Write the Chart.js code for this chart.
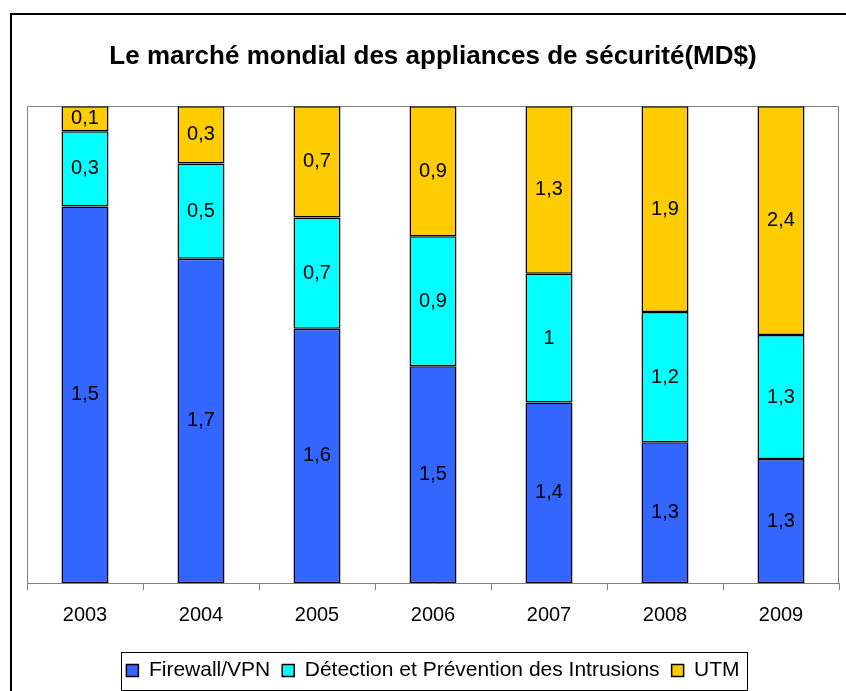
<!DOCTYPE html>
<html lang="fr">
<head>
<meta charset="UTF-8">
<title>Le marché mondial des appliances de sécurité</title>
<script src="https://cdn.jsdelivr.net/npm/chart.js@4.4.0/dist/chart.umd.min.js"></script>
<style>
  html, body { margin: 0; padding: 0; background: #fff; overflow: hidden; }
  #wrap { position: relative; width: 846px; height: 691px; }
</style>
</head>
<body>
<div id="wrap"><canvas id="chart" width="846" height="691"></canvas></div>
<script>
// values in MD$
const years = ['2003', '2004', '2005', '2006', '2007', '2008', '2009'];
const firewallVPN = [1.5, 1.7, 1.6, 1.5, 1.4, 1.3, 1.3];
const detectionIPS = [0.3, 0.5, 0.7, 0.9, 1, 1.2, 1.3];
const utm = [0.1, 0.3, 0.7, 0.9, 1.3, 1.9, 2.4];

const FONT = '"Liberation Sans", Arial, sans-serif';

// 100% stacked: share of each year's total
const totals = years.map((y, i) => firewallVPN[i] + detectionIPS[i] + utm[i]);
const share = arr => arr.map((v, i) => v / totals[i] * 100);

// outer frame, plot area border, legend box
const framePlugin = {
  id: 'frame',
  beforeDraw(chart) {
    const c = chart.ctx, a = chart.chartArea;
    c.save();
    c.fillStyle = '#fff';
    c.fillRect(0, 0, chart.width, chart.height);
    c.strokeStyle = '#000';
    c.lineWidth = 2;
    c.strokeRect(11, 14, 900, 900);
    c.strokeStyle = '#808080';
    c.lineWidth = 1;
    c.beginPath();
    c.moveTo(Math.round(a.left) + 0.5, Math.round(a.bottom));
    c.lineTo(Math.round(a.left) + 0.5, Math.round(a.top) + 0.5);
    c.lineTo(Math.round(a.right) - 0.5, Math.round(a.top) + 0.5);
    c.lineTo(Math.round(a.right) - 0.5, Math.round(a.bottom));
    c.stroke();
    c.restore();
  },
  afterDraw(chart) {
    const lg = chart.legend;
    if (!lg || !lg.legendHitBoxes.length) return;
    const hb = lg.legendHitBoxes;
    const left = Math.min(...hb.map(h => h.left)) - 5;
    const right = Math.max(...hb.map(h => h.left + h.width)) + 8;
    const mid = hb[0].top + hb[0].height / 2;
    const c = chart.ctx;
    c.save();
    c.strokeStyle = '#000';
    c.lineWidth = 1;
    c.strokeRect(Math.round(left) + 0.5, Math.round(mid - 19) + 0.5, Math.round(right - left), 38);
    c.restore();
  }
};

// value labels centred in each segment
const valueLabels = {
  id: 'valueLabels',
  afterDatasetsDraw(chart) {
    const c = chart.ctx;
    c.save();
    c.font = '20px ' + FONT;
    c.fillStyle = '#000';
    c.textAlign = 'center';
    c.textBaseline = 'middle';
    chart.data.datasets.forEach((ds, di) => {
      chart.getDatasetMeta(di).data.forEach((bar, i) => {
        const txt = String(ds.raw[i]).replace('.', ',');
        c.fillText(txt, bar.x, (bar.y + bar.base) / 2);
      });
    });
    c.restore();
  }
};

const common = { borderColor: '#000', borderWidth: 1.5, borderSkipped: false,
                 barPercentage: 0.405, categoryPercentage: 1 };

new Chart(document.getElementById('chart'), {
  type: 'bar',
  data: {
    labels: years,
    datasets: [
      Object.assign({ label: 'Firewall/VPN', data: share(firewallVPN), raw: firewallVPN, backgroundColor: '#3366FF' }, common),
      Object.assign({ label: 'Détection et Prévention des Intrusions', data: share(detectionIPS), raw: detectionIPS, backgroundColor: '#00FFFF' }, common),
      Object.assign({ label: 'UTM', data: share(utm), raw: utm, backgroundColor: '#FFCC00' }, common)
    ]
  },
  options: {
    responsive: false,
    animation: false,
    layout: { padding: { left: 27, right: 7, top: 0, bottom: 0 } },
    scales: {
      x: {
        stacked: true,
        grid: { offset: true, drawOnChartArea: false, drawTicks: true, tickLength: 7, color: '#808080' },
        border: { display: true, color: '#808080' },
        ticks: { color: '#000', font: { family: FONT, size: 20 }, padding: 13 },
        afterFit(scale) { scale.height += 8; }
      },
      y: { stacked: true, display: false, min: 0, max: 100 }
    },
    plugins: {
      title: {
        display: true,
        text: 'Le marché mondial des appliances de sécurité(MD$)',
        color: '#000',
        font: { family: FONT, size: 26, weight: 'bold', lineHeight: 1.2 },
        padding: { top: 41, bottom: 34 }
      },
      legend: {
        position: 'bottom',
        labels: { color: '#000', font: { family: FONT, size: 21 }, boxWidth: 12, boxHeight: 12, padding: 12 }
      },
      tooltip: { enabled: false }
    }
  },
  plugins: [framePlugin, valueLabels]
});
</script>
</body>
</html>
